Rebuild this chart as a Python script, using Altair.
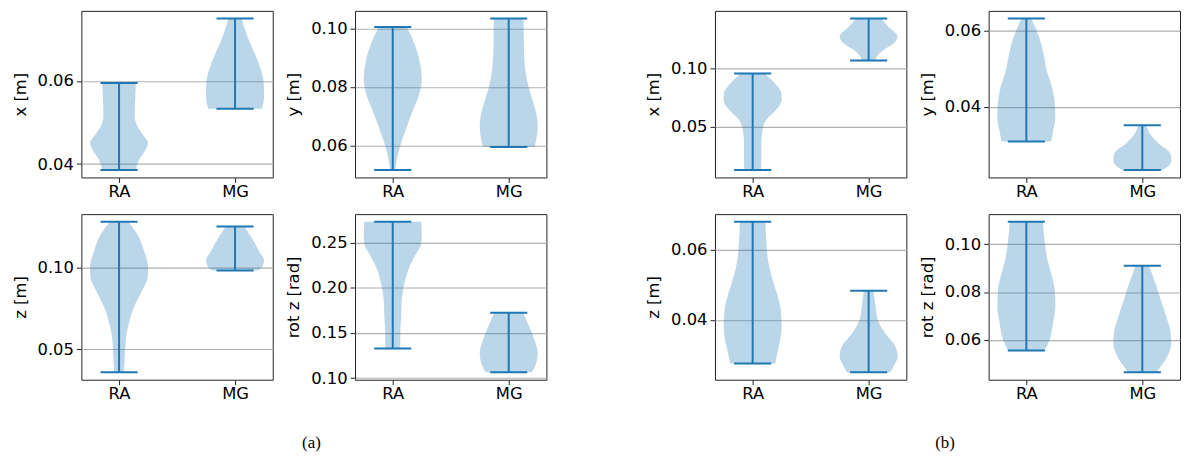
import altair as alt
import pandas as pd

GROUPS = ["RA", "MG"]
POSITIONS = [1, 2]

# ---------------- (a) ----------------
AX_TITLE = "x [m]"
AX_TICKS = [0.04, 0.06]
AX_RA_VALUES = [0.0595, 0.0547, 0.0515, 0.0491, 0.0467, 0.0451, 0.0435, 0.0410, 0.0386]
AX_RA_WIDTHS = [0.58, 0.55, 0.54, 0.63, 0.86, 1.00, 0.92, 0.69, 0.57]
AX_MG_VALUES = [0.0750, 0.0724, 0.0692, 0.0659, 0.0627, 0.0595, 0.0563, 0.0533]
AX_MG_WIDTHS = [0.23, 0.34, 0.51, 0.72, 0.89, 0.99, 1.00, 0.93]

AY_TITLE = "y [m]"
AY_TICKS = [0.06, 0.08, 0.10]
AY_RA_VALUES = [0.1005, 0.0950, 0.0882, 0.0825, 0.0768, 0.0711, 0.0654, 0.0597, 0.0551, 0.0517]
AY_RA_WIDTHS = [0.48, 0.74, 0.94, 1.00, 0.89, 0.66, 0.45, 0.25, 0.14, 0.09]
AY_MG_VALUES = [0.1034, 0.0973, 0.0916, 0.0859, 0.0802, 0.0745, 0.0700, 0.0665, 0.0631, 0.0595]
AY_MG_WIDTHS = [0.51, 0.52, 0.53, 0.57, 0.68, 0.85, 0.97, 1.00, 0.97, 0.89]

AZ_TITLE = "z [m]"
AZ_TICKS = [0.05, 0.10]
AZ_RA_VALUES = [0.1283, 0.1206, 0.1105, 0.1004, 0.0943, 0.0862, 0.0761, 0.0660, 0.0559, 0.0458, 0.0360]
AZ_RA_WIDTHS = [0.32, 0.63, 0.86, 1.00, 0.99, 0.80, 0.52, 0.34, 0.23, 0.20, 0.17]
AZ_MG_VALUES = [0.1253, 0.1186, 0.1105, 0.1045, 0.1004, 0.0984]
AZ_MG_WIDTHS = [0.32, 0.57, 0.82, 1.00, 0.93, 0.77]

AR_TITLE = "rot z [rad]"
AR_TICKS = [0.10, 0.15, 0.20, 0.25]
AR_RA_VALUES = [0.2730, 0.2591, 0.2482, 0.2372, 0.2226, 0.2044, 0.1861, 0.1679, 0.1496, 0.1328]
AR_RA_WIDTHS = [0.98, 1.00, 0.98, 0.80, 0.57, 0.40, 0.31, 0.29, 0.26, 0.26]
AR_MG_VALUES = [0.1723, 0.1569, 0.1423, 0.1277, 0.1168, 0.1066]
AR_MG_WIDTHS = [0.49, 0.71, 0.89, 1.00, 0.95, 0.80]

# ---------------- (b) ----------------
BX_TITLE = "x [m]"
BX_TICKS = [0.05, 0.10]
BX_RA_VALUES = [0.0957, 0.0874, 0.0789, 0.0731, 0.0646, 0.0560, 0.0474, 0.0360, 0.0246, 0.0131]
BX_RA_WIDTHS = [0.41, 0.76, 0.99, 1.00, 0.81, 0.47, 0.34, 0.30, 0.30, 0.29]
BX_MG_VALUES = [0.1429, 0.1360, 0.1274, 0.1217, 0.1160, 0.1103, 0.1069]
BX_MG_WIDTHS = [0.44, 0.67, 1.00, 0.87, 0.52, 0.29, 0.23]

BY_TITLE = "y [m]"
BY_TICKS = [0.04, 0.06]
BY_RA_VALUES = [0.0633, 0.0586, 0.0542, 0.0497, 0.0453, 0.0409, 0.0373, 0.0338, 0.0308]
BY_RA_WIDTHS = [0.17, 0.43, 0.59, 0.70, 0.88, 0.98, 1.00, 0.93, 0.85]
BY_MG_VALUES = [0.0351, 0.0329, 0.0303, 0.0276, 0.0258, 0.0241, 0.0233]
BY_MG_WIDTHS = [0.14, 0.26, 0.56, 0.97, 1.00, 0.87, 0.70]

BZ_TITLE = "z [m]"
BZ_TICKS = [0.04, 0.06]
BZ_RA_VALUES = [0.0681, 0.0626, 0.0570, 0.0523, 0.0475, 0.0428, 0.0381, 0.0343, 0.0306, 0.0276]
BZ_RA_WIDTHS = [0.44, 0.47, 0.53, 0.66, 0.84, 0.97, 1.00, 0.95, 0.85, 0.78]
BZ_MG_VALUES = [0.0484, 0.0438, 0.0400, 0.0362, 0.0325, 0.0296, 0.0268, 0.0251]
BZ_MG_WIDTHS = [0.17, 0.24, 0.32, 0.57, 0.92, 1.00, 0.86, 0.75]

BR_TITLE = "rot z [rad]"
BR_TICKS = [0.06, 0.08, 0.10]
BR_RA_VALUES = [0.1094, 0.1014, 0.0945, 0.0876, 0.0807, 0.0738, 0.0669, 0.0600, 0.0556]
BR_RA_WIDTHS = [0.57, 0.63, 0.71, 0.86, 0.98, 1.00, 0.92, 0.80, 0.63]
BR_MG_VALUES = [0.0910, 0.0835, 0.0766, 0.0697, 0.0628, 0.0586, 0.0531, 0.0490, 0.0465]
BR_MG_WIDTHS = [0.23, 0.46, 0.64, 0.83, 0.98, 1.00, 0.86, 0.64, 0.49]

CAPTIONS = ["(a)", "(b)"]

# ---------------- styling ----------------
BLUE = "#1f77b4"
HALF = 0.25      # max half width of a violin (x units)
CAP = 0.16       # half length of the min/max caps (x units)
PW = 193
H1, H2 = 168, 167

LABEL_EXPR = " : ".join(
    [f"datum.value == {p} ? '{g}'" for p, g in zip(POSITIONS[:-1], GROUPS[:-1])] + [f"'{GROUPS[-1]}'"]
)


def panel(title, ticks, ra_v, ra_w, mg_v, mg_w, height, caption=None):
    series = [(GROUPS[0], POSITIONS[0], ra_v, ra_w), (GROUPS[1], POSITIONS[1], mg_v, mg_w)]
    ext_rows, cap_rows = [], []
    for g, p, vals, wids in series:
        ext_rows.append({"g": g, "x1": p, "v": min(vals), "v2": max(vals)})
        cap_rows.append({"g": g, "x1": p - CAP, "x2": p + CAP, "v": min(vals)})
        cap_rows.append({"g": g, "x1": p - CAP, "x2": p + CAP, "v": max(vals)})
    ext = pd.DataFrame(ext_rows)
    caps = pd.DataFrame(cap_rows)

    allv = list(ra_v) + list(mg_v)
    lo, hi = min(allv), max(allv)
    m = 0.05 * (hi - lo)
    xlo, xhi = min(POSITIONS) - HALF, max(POSITIONS) + HALF
    xm = 0.05 * (xhi - xlo)
    yscale = alt.Scale(domain=[lo - m, hi + m], nice=False, zero=False)
    xscale = alt.Scale(domain=[xlo - xm, xhi + xm], nice=False, zero=False)
    yaxis = alt.Axis(values=ticks, format=".2f", title=title, grid=True)
    xaxis = alt.Axis(values=POSITIONS, labelExpr=LABEL_EXPR, title=None, grid=False)

    areas = []
    for g, p, vals, wids in series:
        df = pd.DataFrame({
            "v": vals,
            "x1": [p - HALF * r for r in wids],
            "x2": [p + HALF * r for r in wids],
        }).sort_values("v")
        areas.append(alt.Chart(df).mark_area(
            orient="horizontal", interpolate="monotone", color=BLUE, opacity=0.3
        ).encode(
            y=alt.Y("v:Q", scale=yscale, axis=yaxis, title=title),
            x=alt.X("x1:Q", scale=xscale, axis=xaxis, title=None),
            x2="x2:Q",
        ))

    stem = alt.Chart(ext).mark_rule(color=BLUE, strokeWidth=2).encode(
        x=alt.X("x1:Q", scale=xscale, axis=xaxis, title=None),
        y=alt.Y("v:Q", scale=yscale, axis=yaxis, title=title),
        y2="v2:Q",
    )
    capl = alt.Chart(caps).mark_rule(color=BLUE, strokeWidth=2).encode(
        x=alt.X("x1:Q", scale=xscale, axis=xaxis, title=None),
        x2="x2:Q",
        y=alt.Y("v:Q", scale=yscale, axis=yaxis, title=title),
    )
    layers = areas + [stem, capl]
    if caption is not None:
        txt = alt.Chart(pd.DataFrame({"t": [caption]})).mark_text(
            font="Liberation Serif", fontSize=17, color="black", baseline="middle", align="center"
        ).encode(text="t:N", x=alt.value(-44), y=alt.value(231))
        layers.append(txt)
    return alt.layer(*layers).properties(width=PW, height=height)


def spacer(height):
    return alt.Chart(pd.DataFrame({"s": [0]})).mark_point(opacity=0, size=1, strokeWidth=0).encode(
        x=alt.value(1), y=alt.value(height / 2)
    ).properties(width=4, height=height, view=alt.ViewBackground(stroke="transparent"))


ax = panel(AX_TITLE, AX_TICKS, AX_RA_VALUES, AX_RA_WIDTHS, AX_MG_VALUES, AX_MG_WIDTHS, H1)
ay = panel(AY_TITLE, AY_TICKS, AY_RA_VALUES, AY_RA_WIDTHS, AY_MG_VALUES, AY_MG_WIDTHS, H1)
az = panel(AZ_TITLE, AZ_TICKS, AZ_RA_VALUES, AZ_RA_WIDTHS, AZ_MG_VALUES, AZ_MG_WIDTHS, H2)
ar = panel(AR_TITLE, AR_TICKS, AR_RA_VALUES, AR_RA_WIDTHS, AR_MG_VALUES, AR_MG_WIDTHS, H2, CAPTIONS[0])
bx = panel(BX_TITLE, BX_TICKS, BX_RA_VALUES, BX_RA_WIDTHS, BX_MG_VALUES, BX_MG_WIDTHS, H1)
by = panel(BY_TITLE, BY_TICKS, BY_RA_VALUES, BY_RA_WIDTHS, BY_MG_VALUES, BY_MG_WIDTHS, H1)
bz = panel(BZ_TITLE, BZ_TICKS, BZ_RA_VALUES, BZ_RA_WIDTHS, BZ_MG_VALUES, BZ_MG_WIDTHS, H2)
br = panel(BR_TITLE, BR_TICKS, BR_RA_VALUES, BR_RA_WIDTHS, BR_MG_VALUES, BR_MG_WIDTHS, H2, CAPTIONS[1])

chart = alt.concat(
    ax, ay, spacer(H1), bx, by,
    az, ar, spacer(H2), bz, br,
    columns=5,
    spacing={"row": 37, "column": 83},
    bounds="flush",
    align="each",
).resolve_scale(
    x="independent", y="independent"
).properties(
    padding={"left": 3, "top": 0, "right": 0, "bottom": 0}
).configure(
    font="DejaVu Sans"
).configure_axis(
    labelFont="DejaVu Sans", labelFontSize=16.5, labelColor="black",
    titleFont="DejaVu Sans", titleFontSize=16.5, titleFontWeight="normal", titleColor="black",
    tickColor="#222", tickSize=5, tickWidth=1, domain=False,
    gridColor="#b0b0b0", gridWidth=1.2,
).configure_axisX(
    labelPadding=1
).configure_axisY(
    labelPadding=3, titlePadding=9
).configure_view(
    stroke="#222", strokeWidth=1
)

chart.save("out.html", embed_options={"renderer": "svg", "actions": False})
